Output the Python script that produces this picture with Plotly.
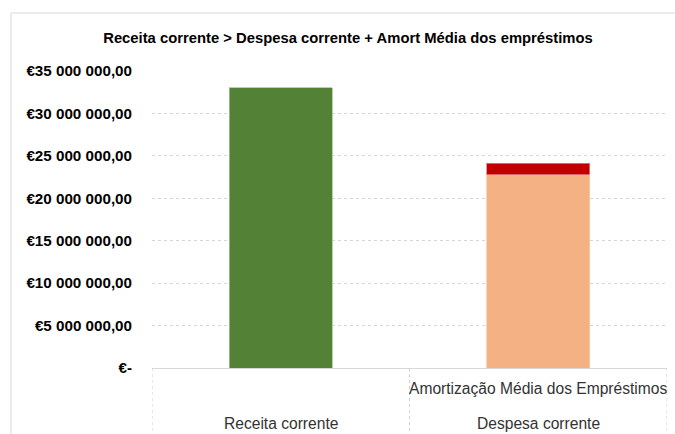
import plotly.graph_objects as go

# ---- data ----
outer_categories = ["Receita corrente", "Despesa corrente"]
inner_categories = ["", "Amortização Média dos Empréstimos"]
receita_corrente = [33000000, None]
despesa_corrente = [None, 22750000]
amortizacao_media = [None, 1350000]
y_tickvals = [0, 5000000, 10000000, 15000000, 20000000, 25000000, 30000000, 35000000]
y_ticktext = ["€-", "€5 000 000,00", "€10 000 000,00", "€15 000 000,00",
              "€20 000 000,00", "€25 000 000,00", "€30 000 000,00", "€35 000 000,00"]
title_text = "Receita corrente > Despesa corrente + Amort Média dos empréstimos"

FONT = "Liberation Sans, Arial, sans-serif"
W, H = 675, 434
L, R, T, B = 152, 8, 71, 66
PW, PH = W - L - R, H - T - B


def py(pix):  # pixel y (from top) -> paper y
    return (H - B - pix) / PH


def px(pix):  # pixel x -> paper x
    return (pix - L) / PW


fig = go.Figure()
fig.add_trace(go.Bar(x=outer_categories, y=receita_corrente,
                     marker=dict(color="#538135", line=dict(color="#a9c795", width=0.8)),
                     name="Receita corrente"))
fig.add_trace(go.Bar(x=outer_categories, y=despesa_corrente,
                     marker=dict(color="#f4b183", line=dict(color="#f8cbad", width=0.8)),
                     name="Despesa corrente"))
fig.add_trace(go.Bar(x=outer_categories, y=amortizacao_media,
                     marker=dict(color="#c00000", line=dict(color="#e08080", width=0.8)),
                     name="Amortização Média dos Empréstimos"))

fig.update_layout(
    width=W, height=H,
    margin=dict(l=L, r=R, t=T, b=B, autoexpand=False),
    barmode="stack", bargap=0.6,
    showlegend=False,
    plot_bgcolor="white", paper_bgcolor="white",
    font=dict(family=FONT, size=12, color="#404040"),
    title=dict(text="<b>" + title_text + "</b>", xref="paper", x=px(348), xanchor="center",
               yref="container", y=1 - 38 / H, yanchor="middle",
               font=dict(family=FONT, size=14.8, color="#000000")),
    xaxis=dict(type="category", showline=True, linecolor="#d9d9d9", linewidth=1,
               showticklabels=False, showgrid=False, ticks="", automargin=False,
               range=[-0.5, 1.5]),
    yaxis=dict(range=[0, 35000000], tickvals=y_tickvals, ticktext=y_ticktext,
               showgrid=True, gridcolor="#d6d6d6", griddash="dot", gridwidth=1,
               zeroline=False, ticks="", ticklabelstandoff=19, automargin=False,
               tickfont=dict(family=FONT, size=15.2, color="#000000", weight="bold")),
)

# category table dividers
for xv in [-0.5, 0.5, 1.5]:
    fig.add_shape(type="line", xref="x", yref="paper", x0=xv, x1=xv, y0=0, y1=py(H + 5),
                  line=dict(color="#d0d0d0", width=1, dash="dot"))

# category labels (inner row then outer row)
for cat, inner in zip(outer_categories, inner_categories):
    if inner:
        fig.add_annotation(x=cat, xref="x", y=py(388), yref="paper", text=inner,
                           showarrow=False, font=dict(family=FONT, size=15.6, color="#333333"),
                           xanchor="center", yanchor="middle")
    fig.add_annotation(x=cat, xref="x", y=py(423), yref="paper", text=cat,
                       showarrow=False, font=dict(family=FONT, size=15.6, color="#333333"),
                       xanchor="center", yanchor="middle")

# chart-area border (left and top edges visible)
fig.add_shape(type="line", xref="paper", yref="paper",
              x0=px(11), x1=px(11), y0=py(H + 5), y1=py(13),
              line=dict(color="#d9d9d9", width=1))
fig.add_shape(type="line", xref="paper", yref="paper",
              x0=px(11), x1=px(W + 5), y0=py(13), y1=py(13),
              line=dict(color="#d9d9d9", width=1))

fig.write_html("out.html", config={"displayModeBar": False},
               post_script="document.body.style.margin='0';document.body.style.overflow='hidden';")
